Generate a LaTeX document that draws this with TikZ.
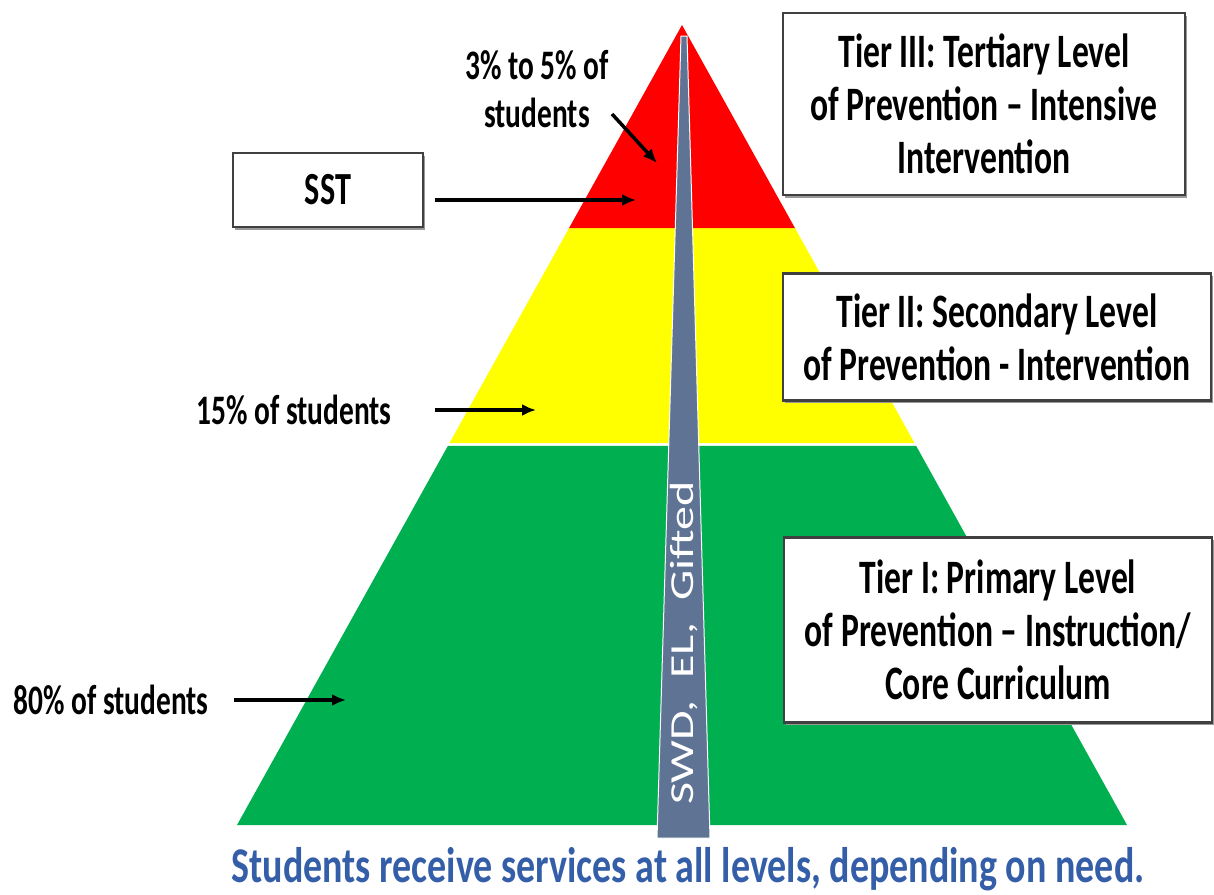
\documentclass[tikz,border=0pt]{standalone}
\usepackage{fontspec}
\setmainfont{Carlito}[FakeStretch=0.7]
\newfontfamily\plainfont{Carlito}
\newfontfamily\needfont{Carlito}[FakeStretch=0.76]
\usetikzlibrary{calc,arrows.meta,shadows}
\definecolor{tierred}{RGB}{255,0,0}
\definecolor{tieryellow}{RGB}{255,255,0}
\definecolor{tiergreen}{RGB}{0,176,80}
\definecolor{wedge}{RGB}{95,116,148}
\definecolor{needblue}{RGB}{52,94,168}
\definecolor{boxline}{RGB}{64,64,64}

\begin{document}
\begin{tikzpicture}[x=1pt,y=-1pt,
  tierbox/.style={draw=boxline,line width=2.5pt,fill=white,align=center,inner sep=0pt,
    font=\fontsize{48}{53}\selectfont\bfseries,
    drop shadow={shadow xshift=1.5pt,shadow yshift=-2.5pt,fill=black!40,opacity=1}},
  share/.style={align=center,font=\fontsize{42}{48}\selectfont\bfseries},
  pointer/.style={-{Latex[length=14pt,width=12pt]},line width=3.5pt}]
\useasboundingbox (0,0) rectangle (1214,894);
\coordinate (apex) at (682,25);
\coordinate (bl) at (237,825);
\coordinate (br) at (1127,825);
\fill[tiergreen] ($(apex)!0.526!(bl)$) -- (bl) -- (br) -- ($(apex)!0.526!(br)$) -- cycle;
\fill[tieryellow] ($(apex)!0.254!(bl)$) -- ($(apex)!0.5225!(bl)$) -- ($(apex)!0.5225!(br)$) -- ($(apex)!0.254!(br)$) -- cycle;
\fill[tierred] (apex) -- ($(apex)!0.254!(bl)$) -- ($(apex)!0.254!(br)$) -- cycle;
\draw[white,line width=1pt,fill=wedge] (681,36) -- (687,36) -- (710,838) -- (657,838) -- cycle;
\node[rotate=90,text=white,inner sep=0pt] (groups) at (684,643)
  {\scalebox{1}[0.7]{\plainfont\fontsize{48}{53}\selectfont SWD,\ \ EL,\ \ Gifted}};

\node[share] (lbl3) at (537,89) {3\% to 5\% of\\students};
\node[share] (lbl15) at (294,410) {15\% of students};
\node[share] (lbl80) at (111,700) {80\% of students};
\node[tierbox,minimum width=190pt,minimum height=74pt,font=\fontsize{46}{50}\selectfont\bfseries] (sst) at (328,190) {SST};
\node[tierbox,minimum width=402pt,minimum height=182pt] (tier3) at (984,104)
  {Tier III: Tertiary Level\\of Prevention – Intensive\\Intervention};
\node[tierbox,minimum width=428pt,minimum height=127pt] (tier2) at (997,337)
  {Tier II: Secondary Level\\of Prevention - Intervention};
\node[tierbox,minimum width=428pt,minimum height=185pt] (tier1) at (998,630)
  {Tier I: Primary Level\\of Prevention – Instruction/\\Core Curriculum};
\node[text=needblue,anchor=base,font=\needfont\fontsize{50}{55}\selectfont\bfseries] (need) at (688,882)
  {Students receive services at all levels, depending on need.};

\coordinate (from3) at (612,114);
\coordinate (tip3) at (657,163);
\coordinate (tipsst) at (636,200);
\coordinate (tip15) at (536,410);
\coordinate (tip80) at (346,700);
\draw[pointer] (from3) -- (tip3);
\draw[pointer,shorten <=11pt] (sst.east |- tipsst) -- (tipsst);
\draw[pointer,shorten <=40pt] (lbl15.east) -- (tip15);
\draw[pointer,shorten <=22pt] (lbl80.east) -- (tip80);
\end{tikzpicture}
\end{document}
